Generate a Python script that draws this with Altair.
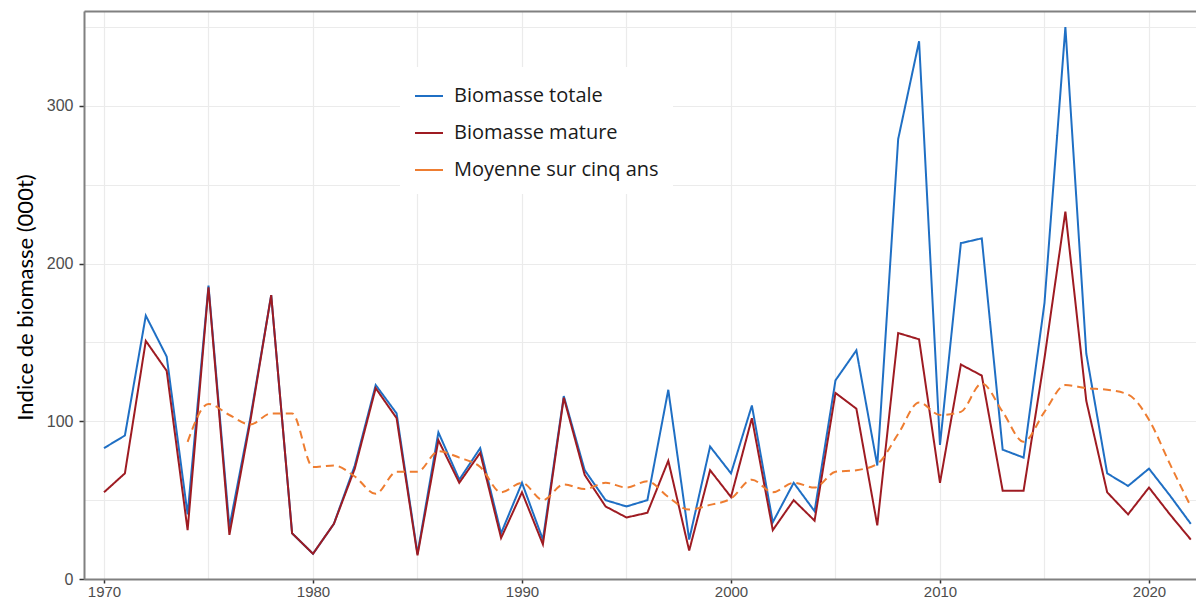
import altair as alt
import pandas as pd

years = list(range(1970, 2023))
biomasse_totale = [83, 91, 167, 141, 41, 186, 33, 102, 180, 29,
                   16, 35, 72, 123, 105, 16, 93, 63, 83, 29,
                   61, 25, 116, 69, 50, 46, 50, 120, 25, 84,
                   67, 110, 36, 61, 43, 126, 145, 72, 279, 341,
                   85, 213, 216, 82, 77, 175, 350, 143, 67, 59,
                   70, 53, 35]
biomasse_mature = [55, 67, 151, 132, 31, 185, 28, 100, 180, 29,
                   16, 35, 70, 121, 102, 15, 88, 61, 80, 26,
                   55, 22, 115, 66, 46, 39, 42, 75, 18, 69,
                   52, 102, 31, 50, 37, 118, 108, 34, 156, 152,
                   61, 136, 129, 56, 56, 140, 233, 113, 55, 41,
                   58, 41, 25]
moyenne_years = list(range(1974, 2023))
moyenne_cinq_ans = [87, 111, 104, 98, 105, 105, 71, 72, 65, 54,
                    68, 68, 81, 77, 71, 55, 61, 50, 60, 57,
                    61, 58, 62, 52, 44, 47, 51, 63, 55, 61,
                    58, 68, 69, 73, 92, 112, 104, 106, 124, 106,
                    87, 106, 123, 121, 120, 117, 101, 73, 46]

S_TOT = "Biomasse totale"
S_MAT = "Biomasse mature"
S_MOY = "Moyenne sur cinq ans"
series_names = [S_TOT, S_MAT, S_MOY]
series_colors = ["#1f6fc4", "#9e1b22", "#ee7d31"]
style_names = ["plein", "tirets"]
style_dashes = [[1, 0], [8, 5]]

x_ticks = list(range(1970, 2025, 5))
y_ticks = [0, 50, 100, 150, 200, 250, 300, 350]

solid = pd.DataFrame({
    "annee": years + years,
    "valeur": biomasse_totale + biomasse_mature,
    "serie": [S_TOT] * len(years) + [S_MAT] * len(years),
    "style": ["plein"] * (2 * len(years)),
})
dashed = pd.DataFrame({
    "annee": moyenne_years,
    "valeur": moyenne_cinq_ans,
    "serie": [S_MOY] * len(moyenne_years),
    "style": ["tirets"] * len(moyenne_years),
})

AXIS_FONT = "Liberation Sans"
BORDER = "#808080"

x_scale = alt.Scale(domain=[1969.043, 2022.25], nice=False, zero=False)

x_enc = alt.X(
    "annee:Q",
    scale=x_scale,
    axis=alt.Axis(
        values=x_ticks, format="d",
        labelExpr="datum.value % 10 == 0 ? datum.label : ''",
        title=None, grid=True, gridColor="#ebebeb", gridWidth=1.2,
        domain=True, domainColor=BORDER, domainWidth=2,
        tickColor={"condition": {"test": "datum.value % 10 != 0", "value": "transparent"},
                   "value": "#333333"},
        tickSize=4, tickWidth=1.5,
        labelFont=AXIS_FONT, labelFontSize=15, labelColor="#4d4d4d", labelPadding=1,
        labelFlush=False,
    ),
)
x_top_enc = alt.X(
    "annee:Q",
    scale=x_scale,
    axis=alt.Axis(
        orient="top", title=None, labels=False, ticks=False, grid=False,
        domain=True, domainColor=BORDER, domainWidth=2,
    ),
)
y_enc = alt.Y(
    "valeur:Q",
    scale=alt.Scale(domain=[0, 360.2], nice=False, zero=True),
    axis=alt.Axis(
        values=y_ticks,
        labelExpr="datum.value % 100 == 0 ? datum.label : ''",
        title="Indice de biomasse (000t)",
        titleFont="Lato", titleFontSize=22, titleFontWeight="normal", titleColor="#000000",
        titleX=-59, titleY=286, titleAngle=270, titleAlign="center", titleBaseline="middle",
        grid=True, gridColor="#ebebeb", gridWidth=1.2,
        domain=True, domainColor=BORDER, domainWidth=2,
        tickColor={"condition": {"test": "datum.value % 100 != 0", "value": "transparent"},
                   "value": "#333333"},
        tickSize=5, tickWidth=1.5,
        labelFont=AXIS_FONT, labelFontSize=16, labelColor="#4d4d4d", labelPadding=6,
    ),
)

color_enc = alt.Color(
    "serie:N",
    scale=alt.Scale(domain=series_names, range=series_colors),
    sort=series_names,
    legend=alt.Legend(
        title=None, orient="none", legendX=316, legendY=56,
        fillColor="white", padding=14,
        symbolType="stroke", symbolSize=784, symbolStrokeWidth=2,
        labelFont="Open Sans", labelFontSize=20, labelColor="#1a1a1a",
        labelOffset=10, rowPadding=12, labelLimit=400,
    ),
)
dash_enc = alt.StrokeDash(
    "style:N",
    scale=alt.Scale(domain=style_names, range=style_dashes),
    legend=None,
)

lines_solid = alt.Chart(solid).mark_line(strokeWidth=2).encode(
    x=x_enc, y=y_enc, color=color_enc, strokeDash=dash_enc
)
line_dashed = alt.Chart(dashed).mark_line(
    strokeWidth=2, interpolate="monotone"
).encode(x=x_top_enc, y=y_enc, color=color_enc, strokeDash=dash_enc)

chart = alt.layer(lines_solid, line_dashed).resolve_axis(x="independent").properties(
    width=1112, height=568,
    autosize=alt.AutoSizeParams(type="none"),
    padding={"left": 76, "top": 3, "right": 0, "bottom": 20},
).configure_view(
    stroke=None
).configure(background="white")

chart.save("out.html", embed_options={"renderer": "svg", "actions": False})
